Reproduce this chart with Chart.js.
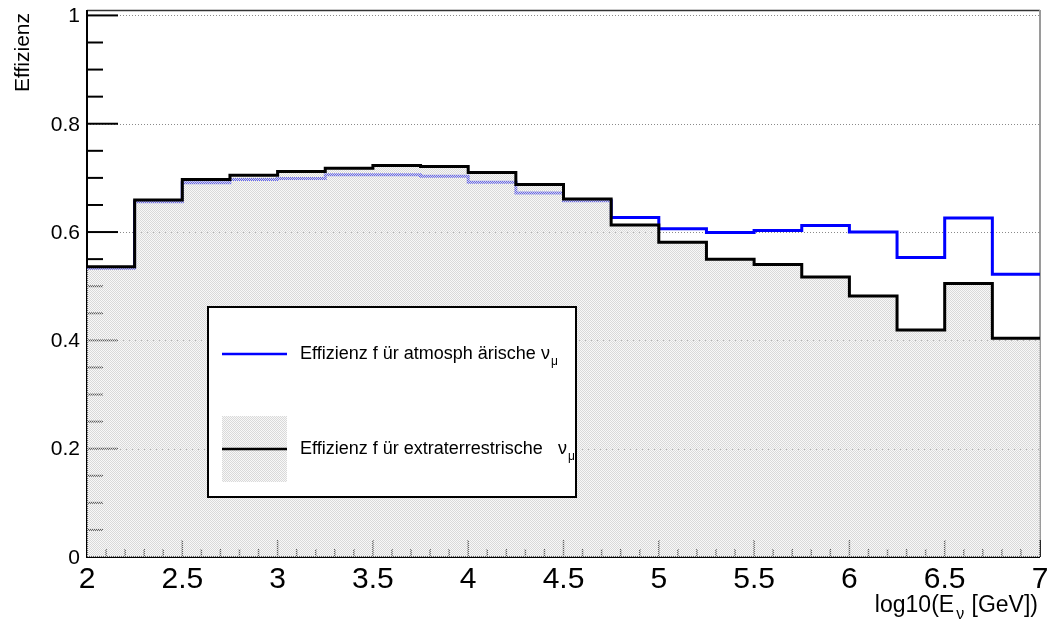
<!DOCTYPE html>
<html>
<head>
<meta charset="utf-8">
<script src="https://cdn.jsdelivr.net/npm/chart.js@4.4.1/dist/chart.umd.min.js"></script>
<style>
  body { margin: 0; background: #fff; }
  canvas { display: block; }
</style>
</head>
<body>
<canvas class="myChart" width="1053" height="623"></canvas>
<script>
// bin edges in log10(E/GeV), 20 bins of 0.25
var binEdges = [2, 2.25, 2.5, 2.75, 3, 3.25, 3.5, 3.75, 4, 4.25, 4.5,
  4.75, 5, 5.25, 5.5, 5.75, 6, 6.25, 6.5, 6.75, 7];

// efficiency per bin
var effAtmo = [0.533, 0.656, 0.691, 0.697, 0.699, 0.706, 0.706, 0.703, 0.692, 0.672,
  0.658, 0.627, 0.606, 0.599, 0.603, 0.612, 0.600, 0.553, 0.626, 0.522];
var effExtra = [0.536, 0.659, 0.697, 0.705, 0.712, 0.718, 0.723, 0.721, 0.710, 0.688,
  0.661, 0.613, 0.581, 0.550, 0.540, 0.517, 0.482, 0.419, 0.505, 0.404];

var xTicks = [2, 2.5, 3, 3.5, 4, 4.5, 5, 5.5, 6, 6.5, 7];
var yTicks = [0, 0.2, 0.4, 0.6, 0.8, 1];

var legendAtmo = "Effizienz f ür atmosph ärische";
var legendExtra = "Effizienz f ür extraterrestrische";

var FONT = "'Liberation Sans', Arial, sans-serif";

// histogram -> stepped points (last bin repeated on the right edge)
function toSteps(vals) {
  var pts = [];
  for (let i = 0; i < vals.length; i++) {
    pts.push({ x: binEdges[i], y: vals[i] });
  }
  pts.push({ x: binEdges[binEdges.length - 1], y: vals[vals.length - 1] });
  return pts;
}

// light gray dot pattern, half the pixels mostly open
function makeHatch() {
  var c = document.createElement("canvas");
  c.width = 2;
  c.height = 2;
  var g = c.getContext("2d");
  g.fillStyle = "#d9d9d9";
  g.fillRect(0, 0, 1, 1);
  g.fillRect(1, 1, 1, 1);
  g.fillStyle = "rgba(238,238,238,0.4)";
  g.fillRect(1, 0, 1, 1);
  g.fillRect(0, 1, 1, 1);
  return g.createPattern(c, "repeat");
}
var hatch = makeHatch();

// frame, grid and tick marks, drawn before the histograms (fill covers them)
var axesPlugin = {
  id: "rootAxes",
  beforeDatasetsDraw: function (chart) {
    var ctx = chart.ctx;
    var a = chart.chartArea;
    var xs = chart.scales.x;
    var ys = chart.scales.y;
    ctx.save();

    // dotted grid
    ctx.strokeStyle = "#8a8a8a";
    ctx.lineWidth = 1;
    ctx.setLineDash([1, 2]);
    yTicks.forEach(function (v) {
      if (v === 0) return;
      var py = Math.round(ys.getPixelForValue(v)) + 0.5;
      ctx.beginPath();
      ctx.moveTo(a.left, py);
      ctx.lineTo(a.right, py);
      ctx.stroke();
    });
    ctx.setLineDash([]);

    // top and right frame
    ctx.strokeStyle = "#333";
    ctx.lineWidth = 1.5;
    ctx.beginPath();
    ctx.moveTo(a.left, a.top + 0.5);
    ctx.lineTo(a.right, a.top + 0.5);
    ctx.stroke();
    ctx.strokeStyle = "#9a9a9a";
    ctx.lineWidth = 2;
    ctx.beginPath();
    ctx.moveTo(a.right, a.top);
    ctx.lineTo(a.right, a.bottom);
    ctx.stroke();

    // axes
    ctx.strokeStyle = "#000";
    ctx.lineWidth = 2;
    ctx.beginPath();
    ctx.moveTo(a.left, a.top);
    ctx.lineTo(a.left, a.bottom);
    ctx.lineTo(a.right, a.bottom);
    ctx.stroke();

    // y ticks: major 0.2, minor 0.05
    for (let k = 0; k <= 20; k++) {
      var py = ys.getPixelForValue(k * 0.05);
      var len = k % 4 === 0 ? 31 : 16;
      ctx.beginPath();
      ctx.moveTo(a.left, py);
      ctx.lineTo(a.left + len, py);
      ctx.stroke();
    }
    // x ticks: major 0.5, minor 0.1
    ctx.lineWidth = 1.5;
    for (let k = 0; k <= 50; k++) {
      var px = xs.getPixelForValue(2 + k * 0.1);
      var tl = k % 5 === 0 ? 17 : 8;
      ctx.beginPath();
      ctx.moveTo(px, a.bottom);
      ctx.lineTo(px, a.bottom - tl);
      ctx.stroke();
    }
    ctx.restore();
  },

  afterDraw: function (chart) {
    var ctx = chart.ctx;
    var a = chart.chartArea;
    var xs = chart.scales.x;
    var ys = chart.scales.y;
    ctx.save();
    ctx.fillStyle = "#000";

    // y tick labels
    ctx.font = "21px " + FONT;
    ctx.textAlign = "right";
    ctx.textBaseline = "middle";
    yTicks.forEach(function (v) {
      ctx.fillText(String(v), a.left - 7, ys.getPixelForValue(v) + 1);
    });

    // x tick labels
    ctx.font = "30px " + FONT;
    ctx.textAlign = "center";
    ctx.textBaseline = "alphabetic";
    xTicks.forEach(function (v) {
      ctx.fillText(String(v), xs.getPixelForValue(v), 588);
    });

    // y title
    ctx.save();
    ctx.font = "21px " + FONT;
    ctx.translate(29, 13);
    ctx.rotate(-Math.PI / 2);
    ctx.textAlign = "right";
    ctx.fillText("Effizienz", 0, 0);
    ctx.restore();

    // x title with subscript nu, right aligned
    var big = "23px " + FONT;
    var small = "16px " + FONT;
    var t1 = "log10(E";
    var t3 = " [GeV])";
    ctx.textAlign = "left";
    ctx.font = big;
    var w3 = ctx.measureText(t3).width;
    var w1 = ctx.measureText(t1).width;
    ctx.font = small;
    var w2 = ctx.measureText("ν").width + 3;
    var xr = 1038;
    var bx = xr - w3 - w2 - w1;
    ctx.font = big;
    ctx.fillText(t1, bx, 612);
    ctx.font = small;
    ctx.fillText("ν", bx + w1 + 2, 619);
    ctx.font = big;
    ctx.fillText(t3, bx + w1 + w2, 612);

    // legend box
    var lx = 208, ly = 307, lw = 368, lh = 190;
    ctx.fillStyle = "#fff";
    ctx.fillRect(lx, ly, lw, lh);
    ctx.strokeStyle = "#000";
    ctx.lineWidth = 2;
    ctx.strokeRect(lx, ly, lw, lh);

    // entry 1: blue line
    ctx.strokeStyle = "#0000ff";
    ctx.lineWidth = 2.5;
    ctx.beginPath();
    ctx.moveTo(222, 354);
    ctx.lineTo(287, 354);
    ctx.stroke();
    // entry 2: filled box with black line
    ctx.fillStyle = hatch;
    ctx.fillRect(222, 416, 65, 66);
    ctx.strokeStyle = "#000";
    ctx.beginPath();
    ctx.moveTo(222, 449);
    ctx.lineTo(287, 449);
    ctx.stroke();

    ctx.fillStyle = "#000";
    ctx.font = "18px " + FONT;
    ctx.textBaseline = "middle";
    ctx.fillText(legendAtmo, 300, 354);
    ctx.fillText(legendExtra, 300, 449);
    ctx.fillText("ν", 541, 354);
    ctx.fillText("ν", 558, 449);
    ctx.font = "12px " + FONT;
    ctx.fillText("μ", 551, 362);
    ctx.fillText("μ", 568, 457);

    ctx.restore();
  },
};

var chart = new Chart(document.querySelector(".myChart").getContext("2d"), {
  type: "line",
  data: {
    datasets: [
      {
        // drawn last: fill lies over the blue line where it is lower
        label: "extraterrestrisch",
        data: toSteps(effExtra),
        stepped: "before",
        borderColor: "#000",
        borderWidth: 3,
        backgroundColor: hatch,
        fill: "origin",
        pointRadius: 0,
        borderJoinStyle: "miter",
      },
      {
        label: "atmosphaerisch",
        data: toSteps(effAtmo),
        stepped: "before",
        borderColor: "#0000ff",
        borderWidth: 3,
        fill: false,
        pointRadius: 0,
        borderJoinStyle: "miter",
      },
    ],
  },
  options: {
    responsive: false,
    animation: false,
    layout: { padding: { left: 87, right: 13, top: 10, bottom: 66 } },
    scales: {
      x: { type: "linear", min: 2, max: 7, display: false },
      y: { type: "linear", min: 0, max: 1.01, display: false },
    },
    plugins: {
      legend: { display: false },
      tooltip: { enabled: false },
    },
  },
  plugins: [axesPlugin],
});
</script>
</body>
</html>
